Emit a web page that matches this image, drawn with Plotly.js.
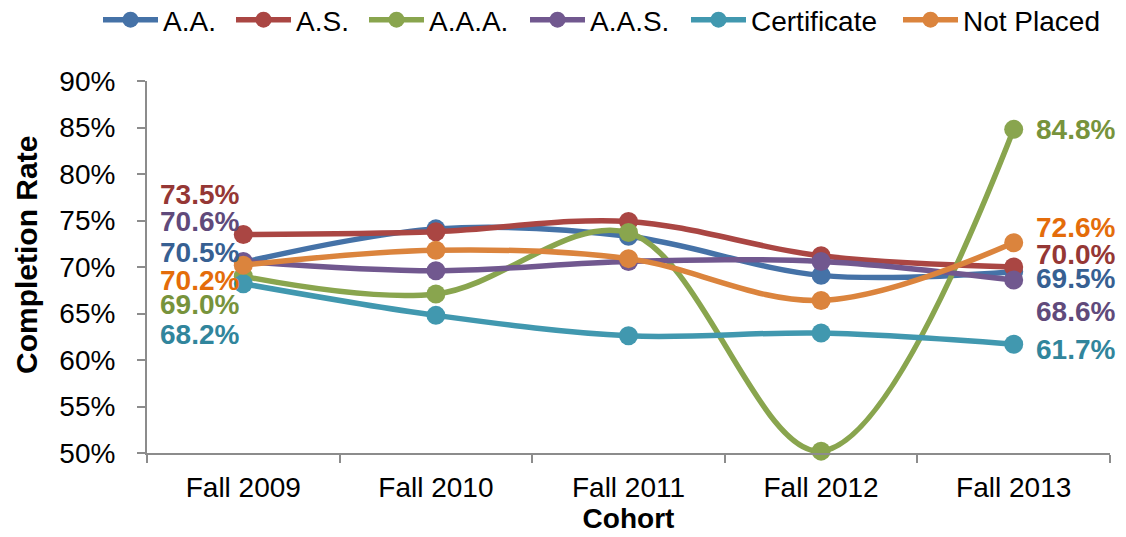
<!DOCTYPE html>
<html>
<head>
<meta charset="utf-8">
<script src="https://cdn.plot.ly/plotly-3.0.1.min.js"></script>
<style>
  html, body { margin: 0; padding: 0; background: #ffffff; }
  #chart { width: 1126px; height: 537px; }
</style>
</head>
<body>
<div id="chart"></div>
<script>
// ---- data ----
const categories = ['Fall 2009', 'Fall 2010', 'Fall 2011', 'Fall 2012', 'Fall 2013'];
const seriesNames = ['A.A.', 'A.S.', 'A.A.A.', 'A.A.S.', 'Certificate', 'Not Placed'];
const aaValues = [70.5, 74.1, 73.3, 69.1, 69.5];
const asValues = [73.5, 73.8, 74.9, 71.2, 70.0];
const aaaValues = [69.0, 67.1, 73.7, 50.2, 84.8];
const aasValues = [70.6, 69.6, 70.6, 70.6, 68.6];
const certificateValues = [68.2, 64.8, 62.6, 62.9, 61.7];
const notPlacedValues = [70.2, 71.8, 70.9, 66.4, 72.6];
const yTickValues = [50, 55, 60, 65, 70, 75, 80, 85, 90];
const yTickLabels = ['50%', '55%', '60%', '65%', '70%', '75%', '80%', '85%', '90%'];
const xAxisTitle = 'Cohort';
const yAxisTitle = 'Completion Rate';

// ---- styles ----
const allValues = [aaValues, asValues, aaaValues, aasValues, certificateValues, notPlacedValues];
const lineColors = ['#4572A7', '#AA4643', '#89A54E', '#71588F', '#4198AF', '#DB843D'];
const labelColors = ['#376092', '#953735', '#77933C', '#604A7B', '#31859C', '#E46C0A'];
// vertical pixel offsets of the end labels (first / last point)
const firstLabelShift = [10, 40, -28, 40, -51, -15];
const lastLabelShift = [-7, 13, 0, -31, -5, 15];
// legend item left positions in pixels
const legendLeftPx = [98, 231, 364, 525, 686, 898];

const FONT = 'Liberation Sans, Arial, sans-serif';
const W = 1126, H = 537;

const traces = seriesNames.map((name, i) => ({
  type: 'scatter',
  mode: 'lines+markers',
  name: name,
  x: categories,
  y: allValues[i],
  line: { color: lineColors[i], width: 5.5, shape: 'spline', smoothing: 1 },
  marker: { color: lineColors[i], size: 19 },
  legend: i === 0 ? 'legend' : 'legend' + (i + 1),
  cliponaxis: false,
  hoverinfo: 'x+y+name'
}));

const annotations = [];
seriesNames.forEach((name, i) => {
  const vals = allValues[i];
  const last = vals.length - 1;
  annotations.push({
    x: categories[0], y: vals[0], xref: 'x', yref: 'y',
    text: vals[0].toFixed(1) + '%', showarrow: false,
    xanchor: 'right', yanchor: 'middle', xshift: -2, yshift: firstLabelShift[i],
    font: { family: FONT, size: 28, color: labelColors[i], weight: 'bold' }
  });
  annotations.push({
    x: categories[last], y: vals[last], xref: 'x', yref: 'y',
    text: vals[last].toFixed(1) + '%', showarrow: false,
    xanchor: 'left', yanchor: 'middle', xshift: 20, yshift: lastLabelShift[i],
    font: { family: FONT, size: 28, color: labelColors[i], weight: 'bold' }
  });
});
// y-axis title
annotations.push({
  xref: 'paper', yref: 'paper',
  x: (26 - 147) / (W - 147 - 16), y: (537 - 84 - 255) / (537 - 81 - 84),
  xanchor: 'center', yanchor: 'middle',
  text: yAxisTitle, textangle: -90, showarrow: false,
  font: { family: FONT, size: 30, color: '#000000', weight: 'bold' }
});

const layout = {
  width: W, height: H,
  margin: { l: 147, r: 16, t: 81, b: 84, pad: 0 },
  paper_bgcolor: '#ffffff',
  plot_bgcolor: '#ffffff',
  font: { family: FONT, size: 28, color: '#000000' },
  showlegend: true,
  annotations: annotations,
  xaxis: {
    type: 'category',
    range: [-0.5, categories.length - 0.5],
    showgrid: false, zeroline: false,
    showline: true, linecolor: '#8C8C8C', linewidth: 2,
    ticks: 'outside', tickson: 'boundaries', ticklen: 8, tickwidth: 2, tickcolor: '#8C8C8C',
    tickfont: { family: FONT, size: 28, color: '#000000' },
    ticklabelstandoff: 8,
    title: { text: xAxisTitle, font: { family: FONT, size: 28, color: '#000000', weight: 'bold' }, standoff: 4 },
    fixedrange: true
  },
  yaxis: {
    range: [50, 90],
    tickmode: 'array',
    tickvals: yTickValues,
    ticktext: yTickLabels,
    showgrid: false, zeroline: false,
    showline: true, linecolor: '#8C8C8C', linewidth: 2,
    ticks: 'outside', ticklen: 8, tickwidth: 2, tickcolor: '#8C8C8C',
    tickfont: { family: FONT, size: 28, color: '#000000' },
    ticklabelstandoff: 16,
    fixedrange: true
  }
};

seriesNames.forEach((name, i) => {
  const key = i === 0 ? 'legend' : 'legend' + (i + 1);
  layout[key] = {
    orientation: 'h',
    xref: 'container', yref: 'container',
    x: legendLeftPx[i] / W, xanchor: 'left',
    y: 1 - 20 / H, yanchor: 'middle',
    font: { family: FONT, size: 28, color: '#000000' },
    itemwidth: 55,
    bgcolor: 'rgba(0,0,0,0)', borderwidth: 0,
    tracegroupgap: 0
  };
});

Plotly.newPlot('chart', traces, layout, { displayModeBar: false, responsive: false, staticPlot: true });
</script>
</body>
</html>
